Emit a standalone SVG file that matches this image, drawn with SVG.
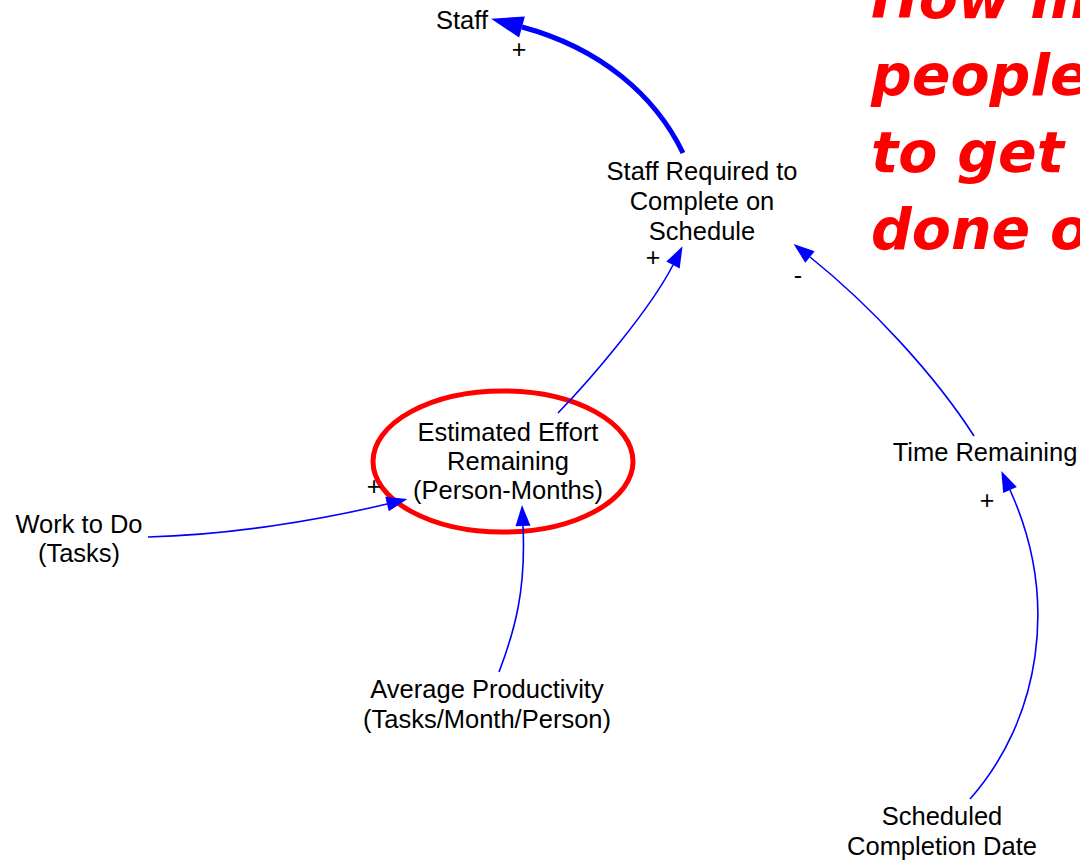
<svg xmlns="http://www.w3.org/2000/svg" width="1080" height="860" viewBox="0 0 1080 860">
<style>
.lbl{font-family:"Liberation Sans",Arial,sans-serif;font-size:25.5px;fill:#000;text-anchor:middle}
.pol{font-family:"Liberation Sans",Arial,sans-serif;font-size:25px;fill:#000;text-anchor:middle}
.lnk{fill:none;stroke:#0000ff;stroke-width:1.6}
.thick{fill:none;stroke:#0000ff;stroke-width:5}
.title{font-family:"DejaVu Sans",Verdana,sans-serif;font-size:57px;font-weight:bold;font-style:italic;fill:#ff0000}
</style>
<defs>
<marker id="ah" markerUnits="userSpaceOnUse" markerWidth="22" markerHeight="16" refX="0" refY="7.5" orient="auto" overflow="visible">
<path d="M0,0 L21,7.5 L0,15 z" fill="#0000ff"/>
</marker>
<marker id="ahBig" markerUnits="userSpaceOnUse" markerWidth="32" markerHeight="24" refX="0" refY="11" orient="auto" overflow="visible">
<path d="M0,0 L32,11 L0,22 z" fill="#0000ff"/>
</marker>
</defs>
<rect width="1080" height="860" fill="#fff"/>
<g id="title">
<text class="title" x="871" y="18">How many</text>
<text class="title" x="871" y="95">people</text>
<text class="title" x="871" y="172">to get</text>
<text class="title" x="871" y="249">done on</text>
</g>
<g id="highlight">
<ellipse cx="503" cy="461.5" rx="130" ry="70.5" fill="none" stroke="#ff0000" stroke-width="5"/>
</g>
<g id="connectors">
<path class="thick" d="M683,153 C655,95 600,48 522,27" marker-end="url(#ahBig)"/>
<path class="lnk" d="M558,413 C590,380 650,310 673,265" marker-end="url(#ah)"/>
<path class="lnk" d="M974,436 C935,375 870,305 810,257" marker-end="url(#ah)"/>
<path class="lnk" d="M148,537 C230,535 320,520 387,504" marker-end="url(#ah)"/>
<path class="lnk" d="M499,672 C515,630 526,590 523,526" marker-end="url(#ah)"/>
<path class="lnk" d="M970,799 C1040,720 1060,600 1010,490" marker-end="url(#ah)"/>
<text class="pol" x="519" y="58">+</text>
<text class="pol" x="653" y="266">+</text>
<text class="pol" x="798" y="284">-</text>
<text class="pol" x="374" y="495">+</text>
<text class="pol" x="987" y="509">+</text>
</g>
<g id="staff"><text class="lbl" x="462" y="29">Staff</text></g>
<g id="staff-required">
<text class="lbl" x="702" y="180">Staff Required to</text>
<text class="lbl" x="702" y="210">Complete on</text>
<text class="lbl" x="702" y="240">Schedule</text>
</g>
<g id="estimated-effort">
<text class="lbl" x="508" y="441">Estimated Effort</text>
<text class="lbl" x="508" y="470">Remaining</text>
<text class="lbl" x="508" y="499">(Person-Months)</text>
</g>
<g id="work-to-do">
<text class="lbl" x="79" y="533">Work to Do</text>
<text class="lbl" x="79" y="562">(Tasks)</text>
</g>
<g id="average-productivity">
<text class="lbl" x="487" y="698">Average Productivity</text>
<text class="lbl" x="487" y="728">(Tasks/Month/Person)</text>
</g>
<g id="time-remaining"><text class="lbl" x="985" y="461">Time Remaining</text></g>
<g id="scheduled-completion">
<text class="lbl" x="942" y="825">Scheduled</text>
<text class="lbl" x="942" y="855">Completion Date</text>
</g>
</svg>
